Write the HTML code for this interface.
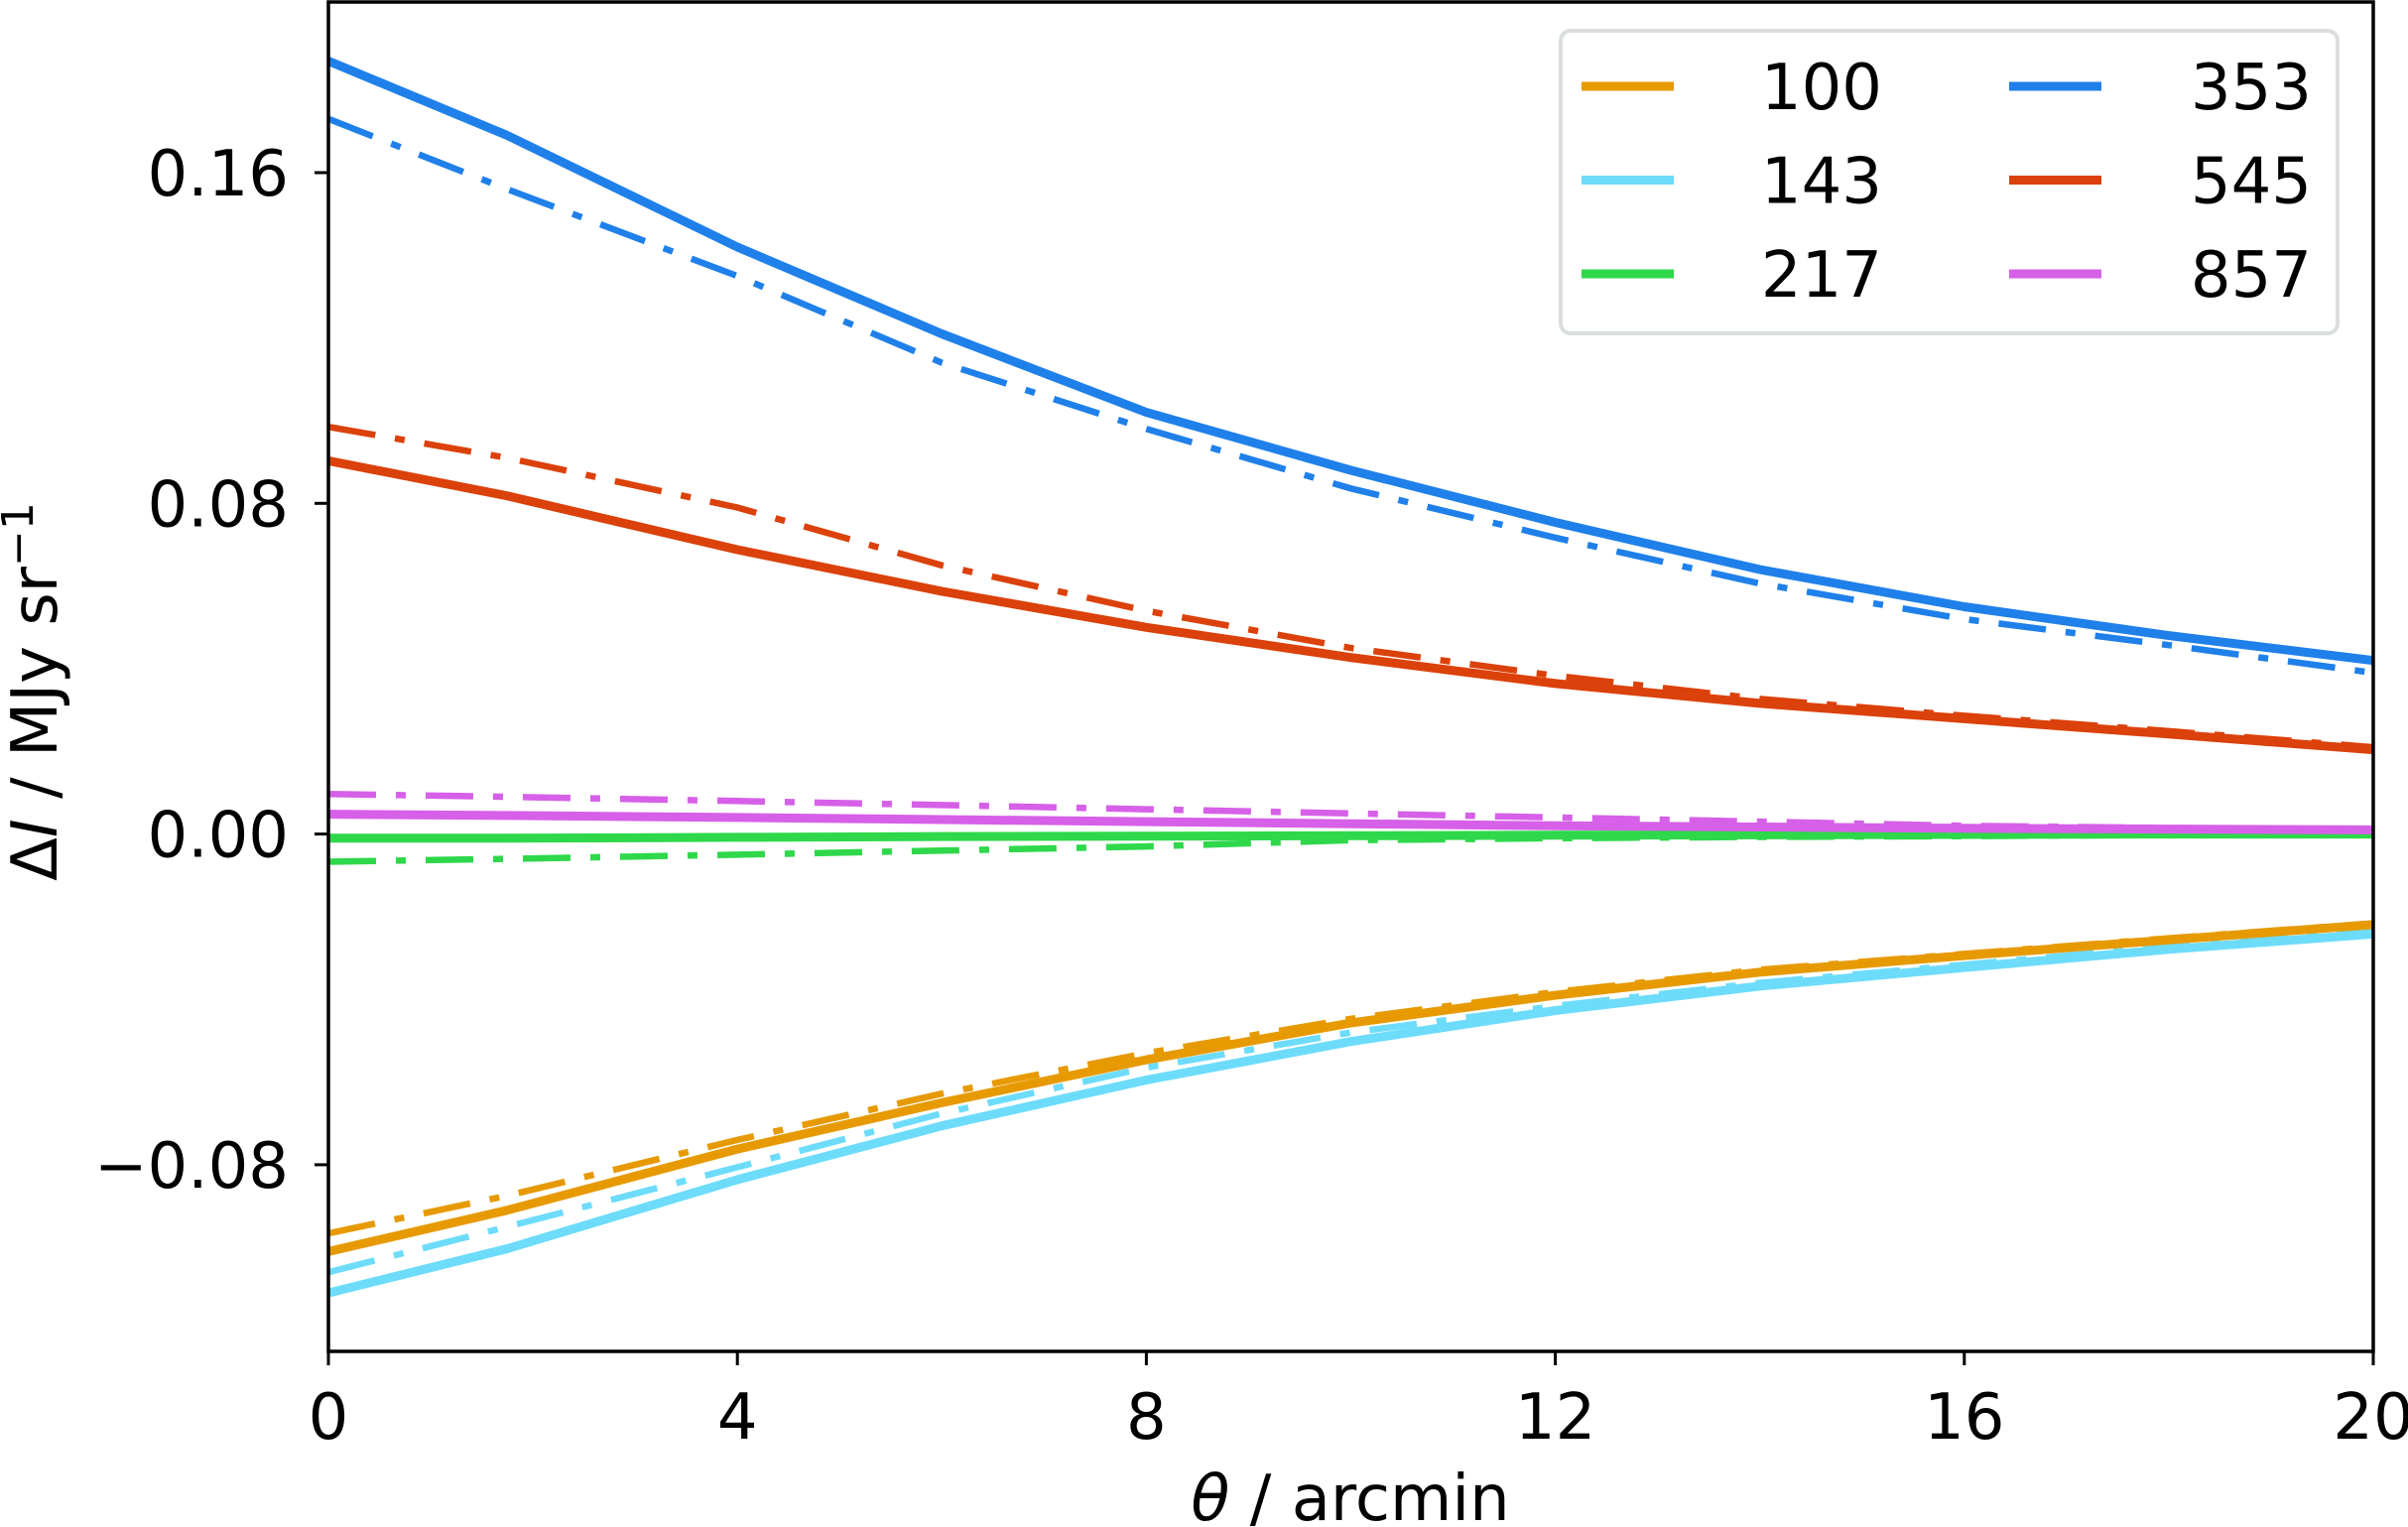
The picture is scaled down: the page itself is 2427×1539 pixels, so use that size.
<!DOCTYPE html>
<html><head><meta charset="utf-8"><style>
html,body{margin:0;padding:0;background:#fff;}
svg{display:block;font-family:"DejaVu Sans","Liberation Sans",sans-serif;}
</style></head><body>
<svg id="chart" width="2427" height="1539" viewBox="0 0 2427 1539">
<g id="plot"></g>
<g id="axes"></g>
<g id="legend"></g>
</svg>
<script>
const theta = [0,1.75,4,6,8,10,12,14,16,18,20];
const freqs = ["100","143","217","353","545","857"];
const colors = ["#e69a00","#6ddcfb","#2ed84a","#1f80ea","#db410a","#d660e8"];
const solid100 = [-0.101,-0.091,-0.0762,-0.065,-0.0546,-0.0457,-0.039,-0.0334,-0.0294,-0.0256,-0.0219];
const dash100  = [-0.0966,-0.0875,-0.074,-0.0628,-0.053,-0.0447,-0.0382,-0.0328,-0.029,-0.0252,-0.0216];
const solid143 = [-0.111,-0.1003,-0.0836,-0.0706,-0.0595,-0.0502,-0.0427,-0.0368,-0.0323,-0.0279,-0.0242];
const dash143  = [-0.106,-0.095,-0.0806,-0.0676,-0.0565,-0.048,-0.0416,-0.036,-0.0316,-0.0272,-0.0234];
const solid217 = [-0.001,-0.001,-0.0008,-0.0006,-0.0005,-0.0004,-0.0003,-0.0002,-0.0001,0,0];
const dash217  = [-0.0067,-0.006,-0.005,-0.004,-0.003,-0.0015,-0.001,-0.0007,-0.0005,-0.0002,0];
const solid353 = [0.187,0.169,0.142,0.121,0.102,0.088,0.0754,0.064,0.055,0.048,0.042];
const dash353  = [0.173,0.156,0.135,0.114,0.098,0.0836,0.0717,0.0606,0.052,0.0457,0.039];
const solid545 = [0.0903,0.0818,0.0688,0.0587,0.050,0.0427,0.0364,0.0316,0.0279,0.0242,0.0204];
const dash545  = [0.0985,0.091,0.079,0.065,0.054,0.045,0.0383,0.0327,0.0286,0.0249,0.021];
const solid857 = [0.0048,0.0045,0.004,0.0035,0.003,0.0025,0.002,0.0017,0.0014,0.0012,0.001];
const dash857  = [0.0097,0.009,0.008,0.007,0.006,0.005,0.004,0.003,0.002,0.0015,0.001];
const xTicks = [0,4,8,12,16,20];
const yTicks = [-0.08,0,0.08,0.16];
const yTickLabels = ["\u22120.08","0.00","0.08","0.16"];

const L=331,R=2392,T=2,B=1362;
const X=v=>L+(v-0)/20*(R-L);
const Y=v=>840.6-v/0.08*333.3;
const NS="http://www.w3.org/2000/svg";
function mk(tag,attrs,parent){const e=document.createElementNS(NS,tag);for(const k in attrs)e.setAttribute(k,attrs[k]);parent.appendChild(e);return e;}
const plot=document.getElementById('plot'),axes=document.getElementById('axes'),leg=document.getElementById('legend');
mk('clipPath',{id:'clip'},plot);
mk('rect',{x:L,y:T,width:R-L,height:B-T},document.getElementById('clip'));
const series=[[solid100,dash100],[solid143,dash143],[solid217,dash217],[solid353,dash353],[solid545,dash545],[solid857,dash857]];
const order=[0,1,2,3,4,5];
order.forEach(i=>{
  const d=series[i][1].map((v,j)=>(j?'L':'M')+X(theta[j]).toFixed(1)+','+Y(v).toFixed(1)).join('');
  const p=mk('path',{d:d,fill:'none',stroke:colors[i],'stroke-width':6.5,'stroke-dasharray':'48,20,10,20','clip-path':'url(#clip)'},plot);
  
  
});
order.forEach(i=>{
  const d=series[i][0].map((v,j)=>(j?'L':'M')+X(theta[j]).toFixed(1)+','+Y(v).toFixed(1)).join('');
  const p=mk('path',{d:d,fill:'none',stroke:colors[i],'stroke-width':9,'stroke-linejoin':'round','clip-path':'url(#clip)'},plot);
  
  
});
const frame=mk('rect',{x:L,y:T,width:R-L,height:B-T,fill:'none',stroke:'#000','stroke-width':3.5},axes);


xTicks.forEach(t=>{
  mk('line',{x1:X(t),x2:X(t),y1:B,y2:B+14,stroke:'#000','stroke-width':3},axes);
  const tx=mk('text',{x:X(t),y:1450,'font-size':64,'text-anchor':'middle',fill:'#000'},axes);
  tx.textContent=t;
  
  
});
yTicks.forEach((t,i)=>{
  mk('line',{x1:L-14,x2:L,y1:Y(t),y2:Y(t),stroke:'#000','stroke-width':3},axes);
  const tx=mk('text',{x:291,y:Y(t)+23,'font-size':64,'text-anchor':'end',fill:'#000'},axes);
  tx.textContent=yTickLabels[i];
  
  
});
const xl=mk('text',{x:1361,y:1532,'font-size':64,'text-anchor':'middle',fill:'#000'},axes);
xl.innerHTML='<tspan font-style="italic">θ</tspan> / arcmin';


const yl=mk('text',{x:0,y:0,'font-size':64,'text-anchor':'middle',fill:'#000',transform:'translate(57,697) rotate(-90)'},axes);
yl.innerHTML='Δ<tspan font-style="italic">I</tspan> / MJy sr<tspan dy="-24" font-size="44">−1</tspan>';


const box=mk('rect',{x:1573,y:31,width:783,height:305,rx:10,fill:'#fff',stroke:'#d9dddc','stroke-width':4,opacity:0.95},leg);


freqs.forEach((f,i)=>{
  const col=Math.floor(i/3),row=i%3;
  const y=87+row*94.5;
  const hx=col?2025:1594;
  const g=mk('g',{},leg);
  
  
  mk('line',{x1:hx,x2:hx+93,y1:y,y2:y,stroke:colors[i],'stroke-width':9},g);
  const t=mk('text',{x:col?2330:1897,y:y+23,'font-size':64,'text-anchor':'end',fill:'#000'},g);
  t.textContent=f;
});
</script>
</body></html>
